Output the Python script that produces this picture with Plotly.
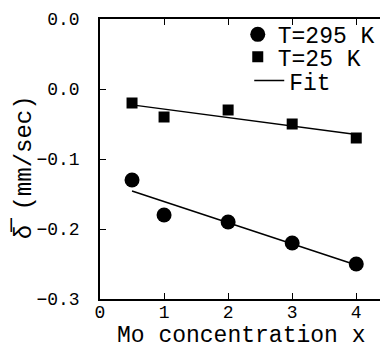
import numpy as np
import plotly.graph_objects as go

x_vals = [0.5, 1, 2, 3, 4]
y_295 = [-0.13, -0.18, -0.19, -0.22, -0.25]
y_25 = [-0.02, -0.04, -0.03, -0.05, -0.07]

y_tickvals = [-0.3, -0.2, -0.1, 0.0, 0.1]
y_ticktext = ["\u22120.3", "\u22120.2", "\u22120.1", "0.0", "0.0"]
x_tickvals = [0, 1, 2, 3, 4]
x_ticktext = ["0", "1", "2", "3", "4"]

x_title = "Mo concentration x"
y_title = "\u03b4\u0305 (mm/sec)"

FONT = "Liberation Mono, Courier New, monospace"

def fit(xs, ys):
    p = np.polyfit(xs, ys, 1)
    xf = np.array([min(xs), max(xs)])
    return xf, np.polyval(p, xf)

fig = go.Figure()
fig.add_trace(go.Scatter(x=x_vals, y=y_295, mode="markers", name="T=295 K", legend="legend",
                         marker=dict(symbol="circle", size=15, color="black")))
fig.add_trace(go.Scatter(x=x_vals, y=y_25, mode="markers", name="T=25 K", legend="legend2",
                         marker=dict(symbol="square", size=11, color="black")))
xf, yf = fit(x_vals, y_295)
fig.add_trace(go.Scatter(x=xf, y=yf, mode="lines", name="Fit", legend="legend3",
                         line=dict(color="black", width=1.5)))
xf, yf = fit(x_vals, y_25)
fig.add_trace(go.Scatter(x=xf, y=yf, mode="lines", name="Fit", showlegend=False,
                         line=dict(color="black", width=1.5)))

leg_common = dict(xanchor="left", yanchor="middle", bgcolor="rgba(0,0,0,0)",
                  font=dict(family=FONT, size=23), borderwidth=0)

# the page body has an 8px default margin, so the figure is 8px smaller than the window
fig.update_layout(
    width=380, height=339,
    margin=dict(l=92, r=1, t=11, b=48),
    paper_bgcolor="white", plot_bgcolor="white",
    font=dict(family=FONT, color="black", size=18),
    showlegend=True,
    legend=dict(x=0.48, y=0.945, **leg_common),
    legend2=dict(x=0.48, y=0.865, **leg_common),
    legend3=dict(x=0.52, y=0.78, **leg_common),
    xaxis=dict(range=[0, 4.48], tickmode="array", tickvals=x_tickvals, ticktext=x_ticktext,
               ticks="inside", ticklen=6, tickcolor="black", showline=True, linecolor="black",
               linewidth=1.5, mirror="ticks", showgrid=False, zeroline=False,
               automargin=False, ticklabelstandoff=-4),
    yaxis=dict(range=[-0.3, 0.1], tickmode="array", tickvals=y_tickvals, ticktext=y_ticktext,
               ticks="inside", ticklen=6, tickcolor="black", showline=True, linecolor="black",
               linewidth=1.5, mirror="ticks", showgrid=False, zeroline=False,
               automargin=False, ticklabelstandoff=15),
    annotations=[
        dict(text=x_title, xref="paper", yref="paper", x=0.491, y=-0.132,
             xanchor="center", yanchor="middle", showarrow=False,
             font=dict(family=FONT, size=23)),
        dict(text=y_title, xref="paper", yref="paper", x=-0.265, y=0.47,
             xanchor="center", yanchor="middle", showarrow=False, textangle=-90,
             font=dict(family=FONT, size=24)),
    ],
)

fig.write_html("out.html")
